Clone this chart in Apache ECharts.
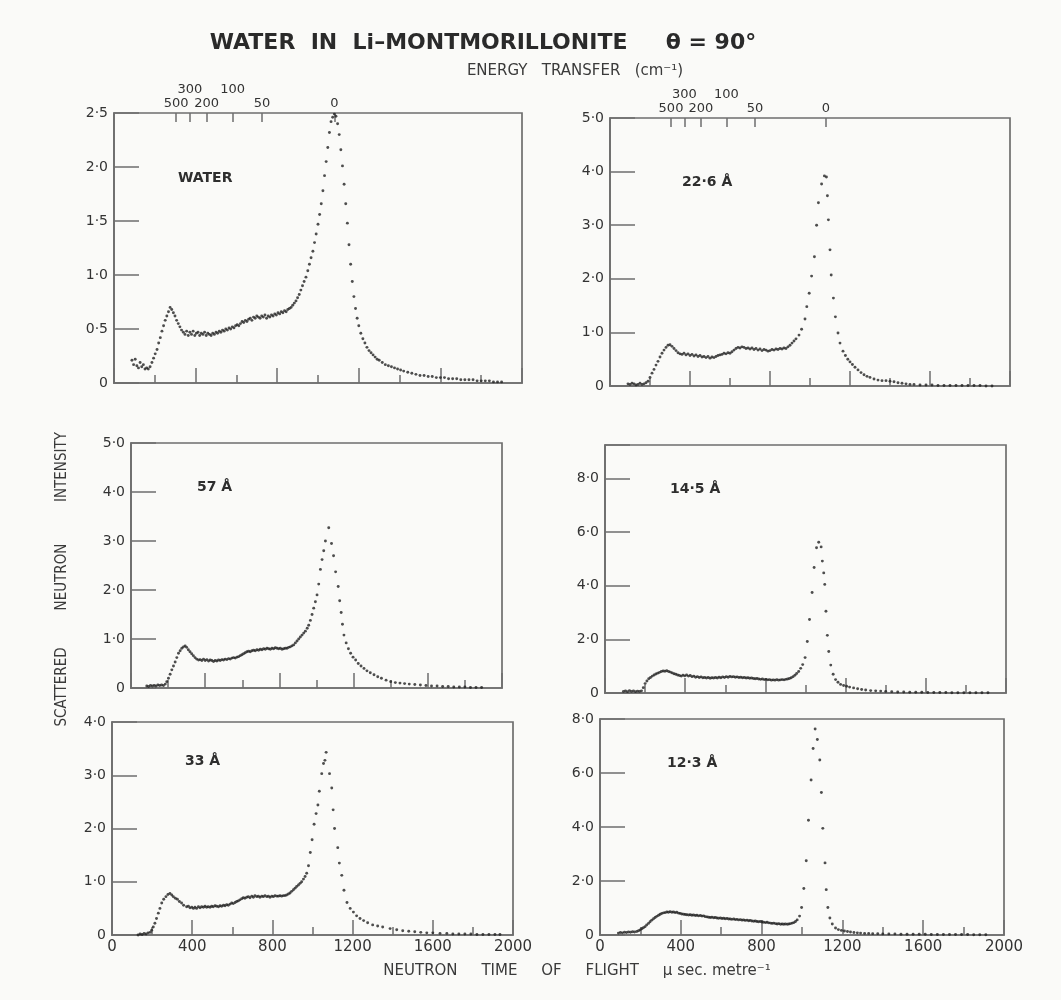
<!DOCTYPE html>
<html><head><meta charset="utf-8">
<script src="https://cdn.jsdelivr.net/npm/echarts@6/dist/echarts.min.js"></script>
<style>html,body{margin:0;padding:0;background:#fafaf8}#c{width:1061px;height:1000px}</style>
</head><body><div id="c"></div><script>
// ---- DATA (time of flight µs/m, intensity) ----
const water = [[88,0.21],[96,0.17],[104,0.22],[112,0.16],[120,0.14],[128,0.19],[136,0.15],[144,0.17],[152,0.13],[160,0.14],[168,0.13],[177,0.15],[186,0.19],[194,0.23],[202,0.27],[211,0.31],[219,0.37],[227,0.42],[235,0.48],[243,0.53],[251,0.58],[259,0.62],[267,0.66],[275,0.70],[283,0.68],[291,0.65],[299,0.62],[307,0.58],[315,0.55],[323,0.52],[331,0.49],[340,0.47],[348,0.45],[356,0.48],[364,0.44],[372,0.47],[380,0.45],[388,0.48],[396,0.44],[404,0.46],[412,0.47],[420,0.44],[428,0.46],[436,0.45],[444,0.47],[452,0.44],[460,0.46],[468,0.45],[476,0.44],[484,0.46],[492,0.45],[500,0.47],[508,0.46],[516,0.48],[524,0.47],[532,0.49],[540,0.48],[548,0.50],[556,0.49],[564,0.51],[572,0.50],[580,0.52],[588,0.51],[596,0.53],[604,0.54],[612,0.53],[620,0.55],[628,0.57],[636,0.56],[644,0.58],[652,0.57],[660,0.59],[668,0.60],[676,0.58],[684,0.61],[692,0.60],[700,0.62],[708,0.61],[716,0.60],[724,0.62],[732,0.61],[740,0.63],[748,0.60],[756,0.62],[764,0.61],[772,0.63],[780,0.62],[788,0.64],[796,0.63],[804,0.65],[812,0.64],[820,0.66],[828,0.65],[836,0.67],[844,0.66],[852,0.68],[860,0.69],[868,0.70],[876,0.72],[884,0.74],[892,0.76],[900,0.79],[908,0.82],[916,0.86],[924,0.90],[932,0.94],[941,0.98],[950,1.04],[958,1.10],[966,1.16],[975,1.22],[983,1.30],[991,1.38],[1000,1.47],[1008,1.56],[1016,1.66],[1024,1.78],[1032,1.92],[1040,2.05],[1048,2.18],[1056,2.32],[1064,2.42],[1072,2.46],[1080,2.49],[1088,2.47],[1096,2.40],[1104,2.30],[1112,2.16],[1120,2.01],[1128,1.84],[1136,1.66],[1144,1.48],[1152,1.28],[1160,1.10],[1168,0.94],[1176,0.80],[1184,0.69],[1192,0.60],[1200,0.53],[1210,0.46],[1220,0.41],[1230,0.37],[1240,0.33],[1250,0.30],[1260,0.28],[1270,0.26],[1280,0.24],[1290,0.22],[1300,0.21],[1315,0.19],[1330,0.17],[1345,0.16],[1360,0.15],[1375,0.14],[1390,0.13],[1405,0.12],[1420,0.11],[1440,0.10],[1460,0.09],[1480,0.08],[1500,0.07],[1520,0.07],[1540,0.06],[1560,0.06],[1580,0.05],[1600,0.05],[1620,0.05],[1640,0.04],[1660,0.04],[1680,0.04],[1700,0.03],[1720,0.03],[1740,0.03],[1760,0.03],[1780,0.02],[1800,0.02],[1820,0.02],[1840,0.02],[1860,0.01],[1880,0.01],[1900,0.01]];

const clay226 = [[90,0.04],[100,0.03],[110,0.05],[120,0.04],[130,0.02],[140,0.03],[150,0.05],[160,0.03],[170,0.04],[180,0.06],[190,0.09],[200,0.16],[210,0.24],[220,0.31],[230,0.39],[240,0.46],[250,0.54],[260,0.61],[270,0.67],[280,0.72],[290,0.76],[300,0.77],[310,0.74],[320,0.70],[330,0.66],[340,0.62],[350,0.60],[360,0.59],[370,0.61],[380,0.58],[390,0.60],[400,0.57],[410,0.59],[420,0.56],[430,0.58],[440,0.55],[450,0.57],[460,0.54],[470,0.55],[480,0.53],[490,0.55],[500,0.52],[510,0.54],[520,0.53],[530,0.55],[540,0.57],[550,0.58],[560,0.59],[570,0.61],[580,0.60],[590,0.62],[600,0.61],[610,0.64],[620,0.67],[630,0.70],[640,0.72],[650,0.71],[660,0.73],[670,0.72],[680,0.70],[690,0.71],[700,0.69],[710,0.71],[720,0.68],[730,0.70],[740,0.67],[750,0.69],[760,0.66],[770,0.68],[780,0.67],[790,0.65],[800,0.66],[810,0.68],[820,0.67],[830,0.69],[840,0.68],[850,0.70],[860,0.69],[870,0.71],[880,0.70],[890,0.73],[900,0.76],[910,0.80],[920,0.84],[930,0.88],[945,0.95],[958,1.06],[975,1.25],[984,1.48],[996,1.73],[1008,2.05],[1022,2.41],[1033,3.00],[1042,3.42],[1058,3.77],[1072,3.92],[1082,3.90],[1087,3.55],[1092,3.10],[1100,2.54],[1106,2.07],[1117,1.64],[1127,1.29],[1140,0.99],[1150,0.80],[1165,0.65],[1177,0.57],[1189,0.50],[1200,0.45],[1212,0.40],[1225,0.35],[1240,0.30],[1255,0.25],[1270,0.21],[1285,0.18],[1300,0.16],[1320,0.13],[1340,0.11],[1360,0.10],[1380,0.10],[1400,0.09],[1420,0.08],[1440,0.06],[1460,0.05],[1480,0.04],[1500,0.03],[1520,0.03],[1550,0.02],[1580,0.02],[1610,0.02],[1640,0.01],[1670,0.01],[1700,0.01],[1730,0.01],[1760,0.01],[1790,0.01],[1820,0.01],[1850,0.01],[1880,0.00],[1910,0.00]];

const clay57 = [[85,0.04],[95,0.03],[105,0.05],[115,0.04],[125,0.05],[135,0.04],[145,0.06],[155,0.05],[165,0.06],[175,0.05],[185,0.08],[193,0.13],[202,0.20],[211,0.28],[220,0.37],[229,0.45],[238,0.53],[247,0.62],[256,0.71],[265,0.76],[274,0.81],[283,0.84],[292,0.86],[300,0.83],[309,0.78],[318,0.74],[327,0.70],[336,0.66],[345,0.62],[354,0.59],[364,0.57],[373,0.58],[382,0.56],[391,0.59],[400,0.56],[409,0.58],[418,0.55],[427,0.57],[436,0.56],[445,0.54],[454,0.56],[463,0.55],[472,0.57],[481,0.56],[490,0.58],[499,0.57],[508,0.59],[517,0.58],[526,0.60],[535,0.59],[544,0.61],[553,0.62],[562,0.61],[571,0.63],[580,0.64],[589,0.66],[598,0.68],[607,0.70],[616,0.72],[625,0.74],[634,0.75],[643,0.74],[652,0.76],[661,0.77],[670,0.76],[679,0.78],[688,0.77],[697,0.79],[706,0.78],[715,0.80],[724,0.79],[733,0.81],[742,0.80],[751,0.79],[760,0.81],[769,0.80],[778,0.82],[787,0.81],[796,0.80],[805,0.81],[814,0.79],[823,0.80],[832,0.81],[841,0.81],[850,0.83],[859,0.84],[868,0.86],[877,0.88],[886,0.92],[895,0.96],[904,1.00],[913,1.04],[922,1.08],[931,1.12],[940,1.16],[950,1.22],[958,1.28],[967,1.38],[976,1.50],[985,1.63],[994,1.76],[1003,1.90],[1012,2.12],[1021,2.42],[1030,2.62],[1039,2.80],[1048,3.00],[1066,3.27],[1081,2.95],[1092,2.70],[1103,2.37],[1117,2.07],[1125,1.78],[1133,1.54],[1140,1.30],[1148,1.08],[1160,0.92],[1172,0.80],[1184,0.71],[1197,0.63],[1211,0.57],[1225,0.50],[1240,0.45],[1256,0.40],[1272,0.35],[1290,0.31],[1310,0.27],[1330,0.23],[1350,0.20],[1375,0.16],[1400,0.13],[1425,0.11],[1450,0.10],[1475,0.09],[1500,0.08],[1530,0.07],[1560,0.06],[1590,0.05],[1620,0.04],[1650,0.04],[1680,0.03],[1710,0.03],[1740,0.02],[1770,0.02],[1800,0.02],[1830,0.01],[1860,0.01],[1890,0.01]];

const clay145 = [[92,0.06],[102,0.08],[112,0.05],[122,0.09],[132,0.06],[142,0.08],[152,0.05],[162,0.07],[172,0.06],[182,0.08],[191,0.20],[200,0.35],[209,0.45],[218,0.53],[227,0.58],[236,0.63],[245,0.67],[254,0.71],[263,0.74],[272,0.77],[281,0.80],[290,0.82],[299,0.81],[308,0.83],[317,0.80],[326,0.78],[335,0.75],[344,0.72],[353,0.70],[362,0.67],[371,0.65],[380,0.63],[389,0.66],[398,0.64],[407,0.67],[416,0.63],[425,0.65],[434,0.61],[443,0.63],[452,0.59],[461,0.61],[470,0.58],[479,0.60],[488,0.57],[497,0.58],[506,0.56],[515,0.58],[524,0.55],[533,0.57],[542,0.56],[551,0.58],[560,0.56],[569,0.59],[578,0.57],[587,0.60],[596,0.58],[605,0.61],[614,0.59],[623,0.62],[632,0.60],[641,0.61],[650,0.59],[659,0.60],[668,0.58],[677,0.59],[686,0.57],[695,0.58],[704,0.56],[713,0.57],[722,0.55],[731,0.56],[740,0.54],[749,0.53],[758,0.54],[767,0.52],[776,0.51],[785,0.52],[794,0.50],[803,0.51],[812,0.49],[821,0.50],[830,0.48],[839,0.49],[848,0.48],[857,0.50],[866,0.48],[875,0.49],[884,0.50],[893,0.49],[902,0.51],[911,0.52],[920,0.54],[929,0.57],[938,0.61],[947,0.66],[956,0.73],[966,0.80],[976,0.92],[986,1.06],[998,1.32],[1009,1.92],[1020,2.74],[1033,3.75],[1043,4.68],[1055,5.42],[1066,5.62],[1078,5.45],[1084,4.92],[1091,4.48],[1096,4.05],[1102,3.05],[1109,2.15],[1116,1.55],[1126,1.04],[1138,0.70],[1150,0.50],[1162,0.40],[1175,0.32],[1190,0.28],[1205,0.25],[1220,0.22],[1240,0.19],[1260,0.16],[1280,0.13],[1300,0.11],[1325,0.09],[1350,0.08],[1375,0.07],[1400,0.06],[1430,0.05],[1460,0.04],[1490,0.04],[1520,0.03],[1550,0.03],[1580,0.03],[1610,0.02],[1640,0.02],[1670,0.02],[1700,0.02],[1730,0.01],[1760,0.01],[1790,0.01],[1820,0.01],[1850,0.01],[1880,0.01],[1910,0.01]];

const clay33 = [[130,0.00],[140,0.02],[150,0.01],[160,0.03],[170,0.02],[180,0.04],[190,0.05],[198,0.09],[206,0.15],[214,0.22],[222,0.31],[231,0.41],[239,0.50],[248,0.60],[258,0.67],[269,0.72],[279,0.76],[289,0.78],[298,0.75],[306,0.72],[316,0.69],[326,0.67],[336,0.63],[347,0.60],[357,0.56],[372,0.53],[381,0.54],[389,0.51],[398,0.52],[406,0.50],[414,0.52],[422,0.50],[431,0.53],[439,0.51],[447,0.53],[456,0.52],[464,0.54],[472,0.52],[480,0.53],[489,0.52],[497,0.54],[505,0.53],[514,0.55],[522,0.54],[531,0.53],[539,0.55],[547,0.54],[556,0.56],[564,0.55],[572,0.57],[580,0.56],[589,0.58],[597,0.60],[605,0.59],[614,0.61],[622,0.63],[630,0.64],[638,0.66],[647,0.68],[655,0.70],[663,0.69],[672,0.71],[680,0.72],[688,0.70],[697,0.73],[705,0.71],[713,0.74],[722,0.72],[730,0.73],[738,0.71],[747,0.73],[755,0.72],[763,0.74],[772,0.72],[780,0.73],[788,0.71],[797,0.73],[805,0.72],[813,0.74],[822,0.73],[830,0.73],[838,0.74],[846,0.73],[855,0.74],[863,0.74],[871,0.75],[880,0.77],[888,0.79],[896,0.82],[905,0.85],[913,0.88],[921,0.91],[930,0.94],[938,0.97],[946,1.00],[955,1.05],[963,1.10],[971,1.16],[980,1.30],[989,1.55],[998,1.79],[1008,2.08],[1018,2.28],[1027,2.44],[1034,2.70],[1046,3.03],[1055,3.22],[1062,3.28],[1068,3.43],[1085,3.03],[1096,2.76],[1103,2.35],[1110,2.00],[1126,1.64],[1134,1.35],[1146,1.12],[1157,0.84],[1172,0.61],[1188,0.50],[1204,0.43],[1220,0.36],[1237,0.31],[1255,0.27],[1275,0.23],[1300,0.19],[1325,0.17],[1350,0.15],[1387,0.12],[1420,0.10],[1450,0.08],[1480,0.07],[1510,0.06],[1540,0.05],[1570,0.04],[1600,0.04],[1636,0.03],[1670,0.03],[1700,0.02],[1730,0.02],[1760,0.02],[1790,0.02],[1820,0.01],[1850,0.01],[1880,0.01],[1910,0.01],[1935,0.01]];

const clay123 = [[91,0.07],[101,0.09],[111,0.08],[121,0.10],[131,0.09],[141,0.11],[151,0.10],[161,0.12],[171,0.11],[182,0.13],[191,0.16],[199,0.19],[207,0.23],[215,0.27],[223,0.31],[231,0.37],[240,0.43],[248,0.49],[256,0.55],[265,0.60],[273,0.65],[281,0.69],[290,0.73],[298,0.77],[306,0.80],[315,0.82],[323,0.83],[331,0.85],[339,0.84],[347,0.86],[356,0.84],[364,0.85],[372,0.83],[380,0.84],[389,0.81],[397,0.80],[405,0.78],[414,0.77],[422,0.76],[430,0.75],[439,0.74],[447,0.75],[455,0.73],[463,0.74],[472,0.72],[480,0.73],[488,0.71],[497,0.72],[505,0.70],[513,0.71],[521,0.68],[530,0.67],[538,0.66],[546,0.65],[554,0.66],[563,0.64],[571,0.65],[579,0.63],[587,0.62],[596,0.63],[604,0.61],[612,0.62],[620,0.60],[629,0.61],[637,0.59],[645,0.59],[653,0.58],[662,0.59],[670,0.57],[678,0.58],[686,0.56],[695,0.57],[703,0.55],[711,0.56],[719,0.54],[728,0.55],[736,0.53],[744,0.54],[752,0.52],[761,0.51],[769,0.52],[777,0.50],[785,0.49],[794,0.50],[802,0.48],[810,0.47],[819,0.46],[827,0.47],[835,0.45],[844,0.44],[852,0.43],[860,0.44],[869,0.42],[877,0.41],[885,0.42],[894,0.40],[902,0.41],[910,0.40],[918,0.41],[927,0.40],[935,0.41],[943,0.42],[952,0.44],[960,0.46],[968,0.50],[976,0.56],[988,0.70],[998,1.02],[1009,1.72],[1021,2.75],[1032,4.25],[1045,5.74],[1055,6.91],[1065,7.63],[1076,7.24],[1088,6.48],[1096,5.28],[1103,3.95],[1114,2.67],[1120,1.68],[1128,1.02],[1138,0.63],[1150,0.41],[1166,0.26],[1180,0.20],[1195,0.17],[1210,0.15],[1225,0.13],[1240,0.11],[1257,0.09],[1274,0.08],[1290,0.07],[1310,0.06],[1330,0.06],[1350,0.05],[1375,0.05],[1400,0.04],[1430,0.04],[1460,0.04],[1490,0.03],[1520,0.03],[1550,0.03],[1580,0.03],[1610,0.03],[1640,0.02],[1670,0.02],[1700,0.02],[1730,0.02],[1760,0.02],[1790,0.02],[1820,0.02],[1850,0.01],[1880,0.01],[1910,0.01]];

const panelNames = ['WATER', '22·6 Å', '57 Å', '14·5 Å', '33 Å', '12·3 Å'];
const yMax  = [2.5, 5, 5, 9.25, 4, 8];
const yStep = [0.5, 1, 1, 2, 1, 2];
const xMin = 0, xMax = 2000, xStep = 400;
// energy-transfer scale (cm^-1) placed at time-of-flight positions
const energyLabels = ['500', '300', '200', '100', '50', '0'];
const energyTimes  = [305, 372, 454, 582, 725, 1080];
const energyRow    = [1, 2, 1, 2, 1, 1];

// ---- LAYOUT / STYLE ----
const datasets = [water, clay226, clay57, clay145, clay33, clay123];
const grids = [
  {left:114, top:113, width:408, height:270},
  {left:610, top:118, width:400, height:268},
  {left:131, top:443, width:371, height:245},
  {left:605, top:445, width:401, height:248},
  {left:112, top:722, width:401, height:213},
  {left:600, top:719, width:404, height:216}
];
const labelPos = [[178,178],[682,182],[197,487],[670,489],[185,761],[667,763]];
const ink = '#333', lineCol = '#6e6e6e';
const FONT = 'DejaVu Sans';
const fmtY = v => (v === 0 ? '0' : v.toFixed(1).replace('.', '·'));

const gridOpts = grids.map(g => Object.assign({show:true, borderColor:lineCol, borderWidth:1.7, backgroundColor:'transparent'}, g));
const xAxes = [], yAxes = [], series = [];
grids.forEach((g, i) => {
  const bottomRow = i >= 4;
  xAxes.push({
    type:'value', gridIndex:i, min:xMin, max:xMax, interval:xStep,
    axisLine:{show:true, lineStyle:{color:lineCol, width:1.7}},
    axisTick:{show:true, inside:true, length:15, lineStyle:{color:lineCol, width:1.5}},
    minorTick:{show:true, splitNumber:2, length:8, lineStyle:{color:lineCol, width:1.5}},
    splitLine:{show:false},
    axisLabel:{show:bottomRow, color:ink, fontFamily:FONT, fontSize:15, margin:5, formatter:v => String(v)}
  });
  const step = yStep[i];
  yAxes.push({
    type:'value', gridIndex:i, min:0, max:yMax[i], interval:step,
    axisLine:{show:true, lineStyle:{color:lineCol, width:1.7}},
    axisTick:{show:true, inside:true, length:25, lineStyle:{color:lineCol, width:1.5}},
    splitLine:{show:false},
    axisLabel:{color:ink, fontFamily:FONT, fontSize:14, margin:6,
      formatter: v => (Math.abs(v/step - Math.round(v/step)) < 1e-6) ? fmtY(v) : ''}
  });
  series.push({
    type:'scatter', xAxisIndex:i, yAxisIndex:i, data:datasets[i],
    symbol:'circle', symbolSize:2.9, itemStyle:{color:'#222'}, silent:true
  });
});
// top energy-transfer axes on the top two panels
const eLabel = {};
energyTimes.forEach((t, k) => { eLabel[t] = energyLabels[k]; });
const row1 = energyTimes.filter((t, k) => energyRow[k] === 1);
const row2 = energyTimes.filter((t, k) => energyRow[k] === 2);
[0, 1].forEach(i => {
  xAxes.push({
    type:'value', gridIndex:i, position:'top', min:xMin, max:xMax,
    axisLine:{show:false},
    axisTick:{show:true, inside:true, length:9, customValues:energyTimes, lineStyle:{color:lineCol, width:1.5}},
    splitLine:{show:false},
    axisLabel:{show:true, customValues:row1, formatter:v => eLabel[v] || '', color:ink, fontFamily:FONT, fontSize:13, margin:3}
  });
  xAxes.push({
    type:'value', gridIndex:i, position:'top', min:xMin, max:xMax,
    axisLine:{show:false}, axisTick:{show:false}, splitLine:{show:false},
    axisLabel:{show:true, customValues:row2, formatter:v => eLabel[v] || '', color:ink, fontFamily:FONT, fontSize:13, margin:17}
  });
});

const graphic = [
  {type:'text', x:483, y:43, style:{text:'WATER  IN  Li–MONTMORILLONITE     θ = 90°', fill:'#2a2a2a', font:'bold 22px "DejaVu Sans"', align:'center', verticalAlign:'middle'}},
  {type:'text', x:575, y:71, style:{text:'ENERGY   TRANSFER   (cm⁻¹)', fill:'#3a3a3a', font:'15px "DejaVu Sans"', align:'center', verticalAlign:'middle'}},
  {type:'text', x:577, y:971, style:{text:'NEUTRON     TIME     OF     FLIGHT     μ sec. metre⁻¹', fill:'#3a3a3a', font:'15px "DejaVu Sans"', align:'center', verticalAlign:'middle'}},
  {type:'text', x:62, y:467, rotation:Math.PI/2, style:{text:'INTENSITY', fill:'#3a3a3a', font:'15px "DejaVu Sans Condensed"', align:'center', verticalAlign:'middle'}},
  {type:'text', x:62, y:577, rotation:Math.PI/2, style:{text:'NEUTRON', fill:'#3a3a3a', font:'15px "DejaVu Sans Condensed"', align:'center', verticalAlign:'middle'}},
  {type:'text', x:62, y:687, rotation:Math.PI/2, style:{text:'SCATTERED', fill:'#3a3a3a', font:'15px "DejaVu Sans Condensed"', align:'center', verticalAlign:'middle'}}
];
panelNames.forEach((n, i) => {
  graphic.push({type:'text', x:labelPos[i][0], y:labelPos[i][1], style:{text:n, fill:'#2e2e2e', font:'bold 14px "DejaVu Sans"', verticalAlign:'middle'}});
});

const chart = echarts.init(document.getElementById('c'), null, {renderer:'canvas'});
chart.setOption({
  backgroundColor:'#fafaf8', animation:false,
  grid:gridOpts, xAxis:xAxes, yAxis:yAxes, series:series, graphic:graphic
});
</script></body></html>
